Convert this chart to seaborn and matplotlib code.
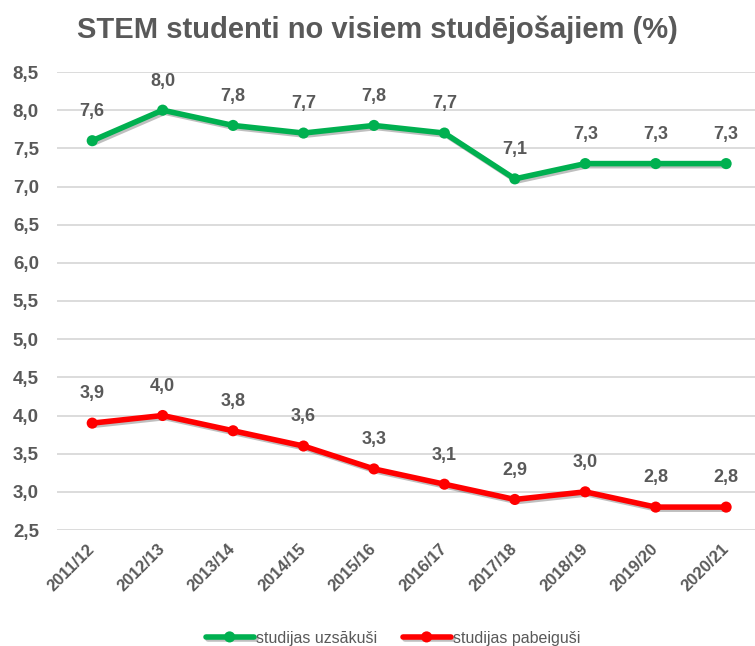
import matplotlib
matplotlib.use("Agg")
import matplotlib.pyplot as plt
import matplotlib.patheffects as pe
import seaborn as sns
import pandas as pd

years = ["2011/12", "2012/13", "2013/14", "2014/15", "2015/16",
         "2016/17", "2017/18", "2018/19", "2019/20", "2020/21"]
started = [7.6, 8.0, 7.8, 7.7, 7.8, 7.7, 7.1, 7.3, 7.3, 7.3]
finished = [3.9, 4.0, 3.8, 3.6, 3.3, 3.1, 2.9, 3.0, 2.8, 2.8]
series_names = ["studijas uzsākuši", "studijas pabeiguši"]
colors = ["#00B050", "#FF0000"]
yticks = [2.5, 3.0, 3.5, 4.0, 4.5, 5.0, 5.5, 6.0, 6.5, 7.0, 7.5, 8.0, 8.5]

sns.set_theme(style="white")
plt.rcParams["font.family"] = ["Liberation Sans", "DejaVu Sans"]

df = pd.DataFrame({
    "value": started + finished,
    "series": [series_names[0]] * len(years) + [series_names[1]] * len(years),
})
df["x"] = list(range(len(years))) * 2

fig = plt.figure(figsize=(7.55, 6.46), dpi=100)
ax = fig.add_axes([57 / 755, 1 - 530 / 646, (755 - 57) / 755, 458 / 646])

sns.lineplot(data=df, x="x", y="value", hue="series", palette=colors,
             marker="o", markersize=8, linewidth=4, markeredgewidth=0,
             ax=ax, legend=True)
for ln in ax.lines:
    ln.set_path_effects([pe.SimpleLineShadow(offset=(1.5, -1.5), alpha=0.25, shadow_color="black"),
                         pe.Normal()])

txtc = "#595959"
for vals in (started, finished):
    for i, v in enumerate(vals):
        ax.annotate(f"{v:.1f}".replace(".", ","), (i, v), xytext=(0, 21),
                    textcoords="offset points", ha="center", va="center",
                    fontsize=13, fontweight="bold", color=txtc)

ax.set_xlim(-0.5, 9.41)
ax.set_ylim(2.5, 8.5)
ax.set_yticks(yticks)
ax.set_yticklabels([f"{t:.1f}".replace(".", ",") for t in yticks],
                   fontsize=13.5, fontweight="bold", color=txtc)
ax.set_xticks(range(len(years)))
ax.set_xticklabels(years, rotation=45, ha="right", va="center", rotation_mode="anchor",
                   fontsize=12, fontweight="bold", color=txtc)
ax.tick_params(axis="y", length=0, pad=13)
ax.tick_params(axis="x", length=0, pad=12)
ax.yaxis.grid(True, color="#D9D9D9", linewidth=1.3)
ax.xaxis.grid(False)
for s in ax.spines.values():
    s.set_visible(False)
ax.set_xlabel("")
ax.set_ylabel("")

fig.text(0.5, 1 - 30 / 646, "STEM studenti no visiem studējošajiem (%)",
         ha="center", va="center", fontsize=21, fontweight="bold", color=txtc)

handles, labels = ax.get_legend_handles_labels()
ax.legend(handles, labels, loc="center", bbox_to_anchor=(393 / 755, 1 - 638 / 646),
          bbox_transform=fig.transFigure,
          ncol=2, frameon=False, fontsize=11.5, labelcolor=txtc,
          handlelength=3.0, handletextpad=0.15, columnspacing=1.6,
          borderpad=0, borderaxespad=0)

fig.savefig("out.png", dpi=100)
